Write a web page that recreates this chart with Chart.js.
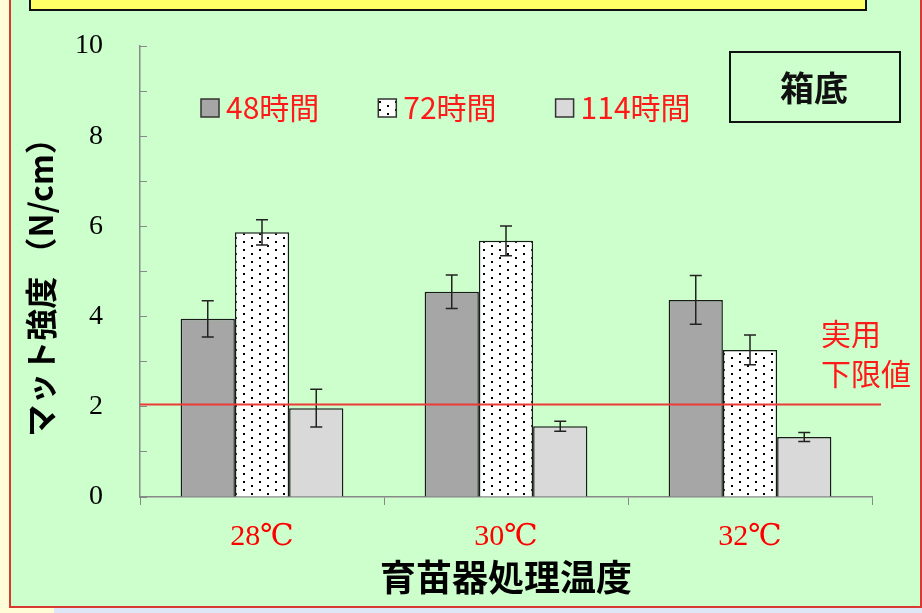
<!DOCTYPE html>
<html lang="ja">
<head>
<meta charset="utf-8">
<title>マット強度</title>
<script src="https://cdn.jsdelivr.net/npm/chart.js@4.4.1/dist/chart.umd.min.js"></script>
<style>
  html, body { margin: 0; padding: 0; }
  body { width: 922px; height: 613px; overflow: hidden; position: relative; background: #fffdd8; }
  #bande { position: absolute; left: 54px; top: 607px; width: 868px; height: 6px; background: #dde7f5; }
  #panneau { position: absolute; left: 9px; top: -4px; width: 909px; height: 608px; background: #ccffcc; border: 2px solid #d83a32; }
  #jaune { position: absolute; left: 29px; top: -10px; width: 834px; height: 17px; background: #ffff66; border: 2px solid #111; }
  canvas { position: absolute; left: 0; top: 0; }
</style>
</head>
<body>
<div id="bande"></div>
<div id="panneau"></div>
<div id="jaune"></div>
<canvas id="graphe" width="922" height="613"></canvas>
<script>
// Données
const categories = ["28℃", "30℃", "32℃"];
const series = ["48時間", "72時間", "114時間"];
const valeurs48 = [3.95, 4.55, 4.37];
const valeurs72 = [5.87, 5.68, 3.26];
const valeurs114 = [1.97, 1.57, 1.33];
const erreurs48 = [0.40, 0.37, 0.54];
const erreurs72 = [0.28, 0.33, 0.33];
const erreurs114 = [0.42, 0.11, 0.10];
const yTicks = [0, 2, 4, 6, 8, 10];
const limite = 2.05;
const texteLimite = ["実用", "下限値"];
const etiquetteBoite = "箱底";

// Motif pointillé pour la série 72時間
function motifPoints() {
  const c = document.createElement("canvas");
  c.width = 16;
  c.height = 8;
  const g = c.getContext("2d");
  g.fillStyle = "#ffffff";
  g.fillRect(0, 0, 16, 8);
  g.fillStyle = "#000000";
  g.fillRect(3, 1, 2, 2);
  g.fillRect(11, 5, 2, 2);
  return g.createPattern(c, "repeat");
}

// Légende, barres d'erreur, ligne limite et boîte 箱底
const extras = {
  id: "extras",
  afterDatasetsDraw(chart) {
    const ctx = chart.ctx;
    const y = chart.scales.y;
    const erreurs = [erreurs48, erreurs72, erreurs114];

    ctx.save();
    ctx.strokeStyle = "#222";
    ctx.lineWidth = 1.5;
    chart.data.datasets.forEach(function (ds, i) {
      const meta = chart.getDatasetMeta(i);
      meta.data.forEach(function (bar, j) {
        const v = ds.data[j];
        const e = erreurs[i][j];
        const yh = y.getPixelForValue(v + e);
        const yb = y.getPixelForValue(v - e);
        ctx.beginPath();
        ctx.moveTo(bar.x, yh);
        ctx.lineTo(bar.x, yb);
        ctx.moveTo(bar.x - 6, yh);
        ctx.lineTo(bar.x + 6, yh);
        ctx.moveTo(bar.x - 6, yb);
        ctx.lineTo(bar.x + 6, yb);
        ctx.stroke();
      });
    });

    // ligne 実用下限値
    const yl = y.getPixelForValue(limite);
    ctx.strokeStyle = "#ec3b36";
    ctx.lineWidth = 2;
    ctx.beginPath();
    ctx.moveTo(chart.chartArea.left, yl);
    ctx.lineTo(chart.chartArea.right + 9, yl);
    ctx.stroke();

    ctx.fillStyle = "#ff1a1a";
    ctx.font = "30px 'Noto Sans CJK JP'";
    ctx.textAlign = "left";
    ctx.textBaseline = "middle";
    ctx.fillText(texteLimite[0], 821, 334);
    ctx.fillText(texteLimite[1], 821, 374);

    // légende
    ctx.font = "30px 'Noto Sans CJK JP'";
    let lx = 201;
    chart.data.datasets.forEach(function (ds) {
      ctx.fillStyle = ds.backgroundColor;
      ctx.fillRect(lx, 99, 18, 18);
      ctx.strokeStyle = "#333";
      ctx.lineWidth = 1.5;
      ctx.strokeRect(lx, 99, 18, 18);
      ctx.fillStyle = "#ff1a1a";
      ctx.fillText(ds.label, lx + 25, 108);
      lx += 25 + ctx.measureText(ds.label).width + 59;
    });

    // boîte 箱底
    ctx.strokeStyle = "#111";
    ctx.lineWidth = 2;
    ctx.strokeRect(730, 52, 170, 70);
    ctx.fillStyle = "#111";
    ctx.font = "bold 34px 'Noto Sans CJK JP'";
    ctx.textAlign = "center";
    ctx.fillText(etiquetteBoite, 814, 88);
    ctx.restore();
  }
};

const ctx = document.getElementById("graphe").getContext("2d");

new Chart(ctx, {
  type: "bar",
  data: {
    labels: categories,
    datasets: [
      {
        label: series[0],
        data: valeurs48,
        backgroundColor: "#a6a6a6",
        borderColor: "#1a1a1a",
        borderWidth: 1.5,
      },
      {
        label: series[1],
        data: valeurs72,
        backgroundColor: motifPoints(),
        borderColor: "#1a1a1a",
        borderWidth: 1.5,
      },
      {
        label: series[2],
        data: valeurs114,
        backgroundColor: "#d9d9d9",
        borderColor: "#1a1a1a",
        borderWidth: 1.5,
      },
    ],
  },
  options: {
    responsive: false,
    animation: false,
    categoryPercentage: 0.667,
    barPercentage: 1.0,
    layout: { padding: { top: 46, right: 50, left: 0, bottom: 0 } },
    plugins: {
      tooltip: { enabled: false },
      legend: { display: false },
    },
    scales: {
      x: {
        afterFit(s) { s.height = 116; },
        grid: {
          offset: true,
          drawOnChartArea: false,
          color: "#888",
          tickLength: 8,
        },
        border: { color: "#888", width: 1.5 },
        ticks: {
          color: "#ff0000",
          padding: 14,
          font: { family: "'Liberation Serif', 'DejaVu Serif', serif", size: 30 },
        },
        title: {
          display: true,
          text: "育苗器処理温度",
          color: "#000",
          font: { family: "'Noto Sans CJK JP'", size: 36, weight: "bold" },
          padding: { top: 0, bottom: 14 },
        },
      },
      y: {
        min: 0,
        max: 10,
        afterFit(s) {
          s.width = 140;
          s.paddingTop = 0;
          s.paddingBottom = 0;
        },
        grid: {
          drawOnChartArea: false,
          color: "#888",
          tickLength: -7,
        },
        border: { color: "#888", width: 1.5 },
        ticks: {
          stepSize: 1,
          autoSkip: false,
          padding: 44,
          color: "#000",
          font: { family: "'Liberation Serif', serif", size: 28 },
          callback: function (v) { return yTicks.includes(v) ? String(v) : ""; },
        },
        title: {
          display: true,
          text: "マット強度 （N/cm）　",
          color: "#000",
          font: { family: "'Noto Sans CJK JP'", size: 32, weight: "bold" },
          padding: { top: 22, bottom: 0 },
        },
      },
    },
  },
  plugins: [extras],
});
</script>
</body>
</html>
